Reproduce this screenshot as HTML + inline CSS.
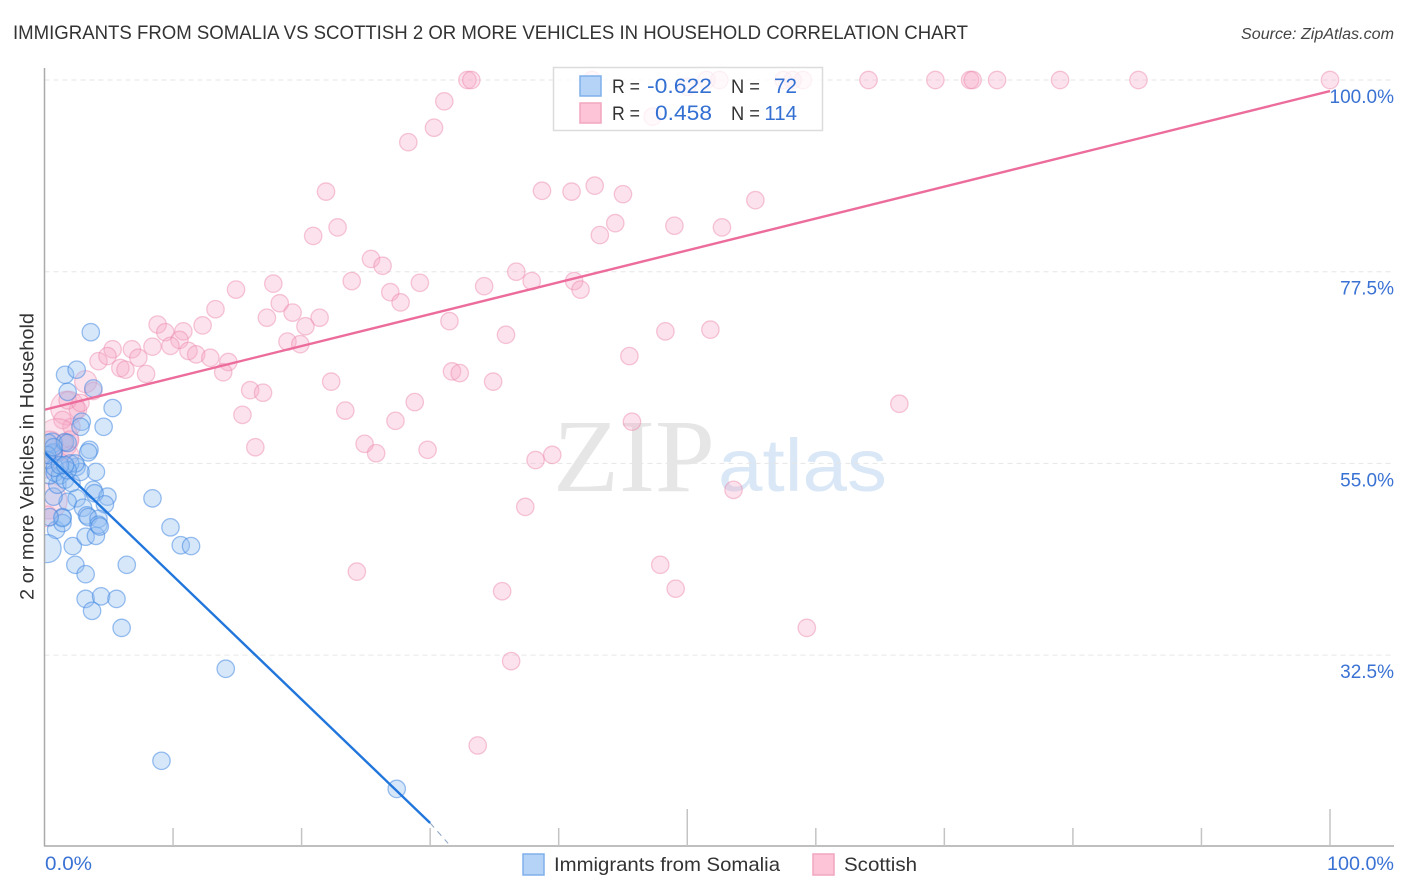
<!DOCTYPE html>
<html lang="en">
<head>
<meta charset="utf-8">
<title>Immigrants from Somalia vs Scottish correlation chart</title>
<style>
html,body{margin:0;padding:0;background:#fff;}
body{width:1406px;height:892px;overflow:hidden;font-family:"Liberation Sans",sans-serif;}
svg{display:block;}
text{font-family:"Liberation Sans",sans-serif;}
</style>
</head>
<body>
<svg id="chart" xmlns="http://www.w3.org/2000/svg" width="1406" height="892" viewBox="0 0 1406 892">
  <defs>
    <clipPath id="plot-clip"><rect x="45" y="60" width="1349" height="786"/></clipPath>
  </defs>
  <text x="13" y="39" font-size="19.5" fill="#333" textLength="955" lengthAdjust="spacingAndGlyphs">IMMIGRANTS FROM SOMALIA VS SCOTTISH 2 OR MORE VEHICLES IN HOUSEHOLD CORRELATION CHART</text>
  <text x="1241" y="39" font-size="15.5" font-style="italic" fill="#444" textLength="153" lengthAdjust="spacingAndGlyphs">Source: ZipAtlas.com</text>
  <text x="553" y="491" font-size="104" fill="#e6e6e6" textLength="162" lengthAdjust="spacingAndGlyphs" style="font-family:'Liberation Serif',serif;">ZIP</text>
  <text x="718" y="491" font-size="74" fill="#d9e7f6" textLength="169" lengthAdjust="spacingAndGlyphs">atlas</text>
  <g id="grid"></g>
  <g id="points" clip-path="url(#plot-clip)"></g>
  <g id="trends"></g>
  <g id="axes"></g>
  <text transform="translate(33.5,456.5) rotate(-90)" font-size="19.5" fill="#333" text-anchor="middle" textLength="287" lengthAdjust="spacingAndGlyphs">2 or more Vehicles in Household</text>
  <g>
    <rect x="553.5" y="67.5" width="269" height="63" fill="#fff" fill-opacity="0.78" stroke="#dcdcdc" stroke-width="1.5"/>
    <rect x="580" y="76" width="21" height="20" fill="#b5d2f7" stroke="#7fb0ea" stroke-width="1.5"/>
    <rect x="580" y="103" width="21" height="20" fill="#fcc4d6" stroke="#f2a6bf" stroke-width="1.5"/>
    <text x="612" y="93" font-size="19" fill="#333" textLength="28" lengthAdjust="spacingAndGlyphs">R =</text>
    <text x="647" y="93" font-size="21" fill="#3470d2" textLength="65" lengthAdjust="spacingAndGlyphs">-0.622</text>
    <text x="731" y="93" font-size="19" fill="#333" textLength="29" lengthAdjust="spacingAndGlyphs">N =</text>
    <text x="774" y="93" font-size="21" fill="#3470d2" textLength="23" lengthAdjust="spacingAndGlyphs">72</text>
    <text x="612" y="120" font-size="19" fill="#333" textLength="28" lengthAdjust="spacingAndGlyphs">R =</text>
    <text x="655" y="120" font-size="21" fill="#3470d2" textLength="57" lengthAdjust="spacingAndGlyphs">0.458</text>
    <text x="731" y="120" font-size="19" fill="#333" textLength="29" lengthAdjust="spacingAndGlyphs">N =</text>
    <text x="797" y="120" font-size="20.5" fill="#3470d2" text-anchor="end">114</text>
  </g>
  <g>
    <rect x="523" y="854" width="21" height="21" fill="#b5d2f7" stroke="#7fb0ea" stroke-width="1.5"/>
    <text x="554" y="871" font-size="19.5" fill="#333" textLength="226" lengthAdjust="spacingAndGlyphs">Immigrants from Somalia</text>
    <rect x="813" y="854" width="21" height="21" fill="#fcc4d6" stroke="#f2a6bf" stroke-width="1.5"/>
    <text x="844" y="871" font-size="19.5" fill="#333" textLength="73" lengthAdjust="spacingAndGlyphs">Scottish</text>
  </g>
</svg>
<script>
const yTickValues = [100, 77.5, 55, 32.5];
const yTickLabels = ["100.0%", "77.5%", "55.0%", "32.5%"];
const xTickValues = [0, 10, 20, 30, 40, 50, 60, 70, 80, 90, 100];
const xTallTicks = [0, 50, 100];
const xEndLabels = ["0.0%", "100.0%"];

const somaliaX = [3.6,1.6,2.5,1.8,3.8,5.3,2.9,2.8,4.6,3.5,3.4,4.0,8.4,9.8,10.6,11.4,6.4,2.4,3.2,2.2,3.2,4.0,0.9,0.2,3.2,4.4,5.6,3.7,6.0,14.1,9.1,27.4,3.8,4.9,3.9,2.5,1.8,3.0,4.7,3.3,3.4,4.2,4.2,4.3,1.4,1.4,1.4,0.4,0.7,1.0,0.4,0.8,1.2,1.6,2.1,2.5,2.8,2.0,2.4,1.8,0.6,0.6,0.7,1.6,1.8,0.2,0.8,0.3,0.2,1.2,1.6,0.7];
const somaliaY = [70.4,65.4,66.0,63.4,63.8,61.5,59.9,59.3,59.3,56.6,56.3,54.0,50.9,47.5,45.4,45.3,43.1,43.1,42.0,45.3,46.4,46.5,47.2,45.0,39.1,39.4,39.1,37.7,35.7,30.9,20.1,16.8,51.9,51.1,51.5,50.9,50.5,49.8,50.2,48.9,48.7,48.5,47.8,47.6,48.7,48.0,48.6,48.7,51.1,52.5,53.6,53.9,53.6,53.1,52.7,54.6,54.0,55.0,55.0,54.2,56.0,57.4,56.3,57.5,57.4,55.4,54.5,57.4,56.0,54.8,54.8,56.9];
const somaliaWeight = {23: 2.6, 60: 1.3, 61: 1.3};

const scottishX = [32.9,33.2,42.6,51.5,52.5,57.5,58.2,59.0,64.1,69.3,72.0,72.2,74.1,79.0,85.1,100,50.0,47.3,31.1,30.3,28.3,21.9,38.7,41.0,42.8,45.0,55.3,20.9,22.8,43.2,44.4,49.0,52.7,25.4,26.3,23.9,17.8,14.9,18.3,13.3,19.3,17.3,21.4,20.3,8.8,9.4,10.8,12.3,10.5,9.8,8.4,18.9,19.9,5.3,6.8,4.2,4.9,7.3,11.2,11.8,12.9,14.3,13.9,5.9,6.3,7.9,3.2,3.8,22.3,16.0,17.0,23.4,15.4,28.8,27.3,16.4,24.9,25.8,29.8,31.7,32.3,34.9,35.9,31.5,26.9,27.7,29.2,34.2,36.7,37.9,41.2,41.7,45.5,48.3,51.8,66.5,45.7,38.2,39.5,53.6,37.4,47.9,49.1,24.3,35.6,36.3,33.7,59.3,1.8,2.6,1.8,2.8,2.1,1.4,1.0,0.4,2.0,1.5,0.35,0.2,2.0,1.2,0.1,0.0];
const scottishY = [100,100,100,100,100,100,100,100,100,100,100,100,100,100,100,100,99.2,95.7,97.5,94.4,92.7,86.9,87.0,86.9,87.6,86.6,85.9,81.7,82.7,81.8,83.2,82.9,82.7,79.0,78.2,76.4,76.1,75.4,73.8,73.1,72.7,72.1,72.1,71.1,71.3,70.4,70.5,71.2,69.5,68.8,68.7,69.3,69.0,68.4,68.4,67.0,67.6,67.4,68.2,67.8,67.4,66.9,65.7,66.2,66.0,65.5,64.6,63.5,64.6,63.6,63.3,61.2,60.7,62.2,60.0,56.9,57.3,56.2,56.6,65.8,65.6,64.6,70.1,71.7,75.1,73.9,76.2,75.8,77.5,76.4,76.4,75.4,67.6,70.5,70.7,62.0,59.9,55.4,56.0,51.9,49.9,43.1,40.3,42.3,40.0,31.8,21.9,35.7,61.5,61.3,62.4,62.1,59.3,60.1,57.8,57.2,57.8,57.4,50.6,48.8,56.0,55.2,54.3,56.0];
const scottishWeight = {66: 1.6, 108: 3.8, 114: 5.8, 115: 2.4, 118: 4.3, 119: 1.4};

const somaliaTrend = { start: 0, end: 30, startValue: 56.3, endValue: 12.8, dashEnd: 31.4, dashValue: 10.4 };
const scottishTrend = { start: 0, end: 100, startValue: 61.3, endValue: 98.7 };

const NS = "http://www.w3.org/2000/svg";
const plotLeft = 44.5, plotRight = 1330, plotTop = 80, plotBottom = 846;
const yMax = 100, yMin = 10.1;
function xScale(v) { return plotLeft + (v / 100) * (plotRight - plotLeft); }
function yScale(v) { return plotTop + ((yMax - v) / (yMax - yMin)) * (plotBottom - plotTop); }
function radius(w) { return 8.7 * Math.sqrt(w || 1); }
function make(tag, attrs, parent) {
  const el = document.createElementNS(NS, tag);
  for (const k in attrs) el.setAttribute(k, attrs[k]);
  parent.appendChild(el);
  return el;
}

const gridG = document.getElementById("grid");
const axesG = document.getElementById("axes");
const pointsG = document.getElementById("points");
const trendsG = document.getElementById("trends");

yTickValues.forEach(function (v, i) {
  const line = make("line", { x1: 44.5, x2: 1394, y1: yScale(v), y2: yScale(v), stroke: "#e6e6e6", "stroke-width": 1, "stroke-dasharray": "5 4" }, gridG);
  
  
  const label = make("text", { x: 1394, y: yScale(v) + 23, "font-size": 19, fill: "#3a72d4", "text-anchor": "end" }, axesG);
  label.textContent = yTickLabels[i];
  
  
});

const yAxis = make("line", { x1: 44.5, x2: 44.5, y1: 68, y2: 846.5, stroke: "#aaa", "stroke-width": 1.5 }, axesG);


const xAxis = make("line", { x1: 44, x2: 1394, y1: 846, y2: 846, stroke: "#aaa", "stroke-width": 1.5 }, axesG);



xTickValues.forEach(function (v) {
  if (v === 0) return;
  const tall = xTallTicks.indexOf(v) >= 0;
  const tick = make("line", { x1: xScale(v), x2: xScale(v), y1: tall ? 809 : 828, y2: 846, stroke: "#c4c4c4", "stroke-width": 1.5 }, axesG);
  
  
});

const xLabelLeft = make("text", { x: 45, y: 870, "font-size": 19, fill: "#3a72d4", textLength: 47, lengthAdjust: "spacingAndGlyphs" }, axesG);
xLabelLeft.textContent = xEndLabels[0];


const xLabelRight = make("text", { x: 1327, y: 870, "font-size": 19, fill: "#3a72d4", textLength: 67, lengthAdjust: "spacingAndGlyphs" }, axesG);
xLabelRight.textContent = xEndLabels[1];



scottishX.forEach(function (v, i) {
  const c = make("circle", { cx: xScale(v), cy: yScale(scottishY[i]), r: radius(scottishWeight[i]), fill: "#f7a8c4", "fill-opacity": 0.33, stroke: "#ec86aa", "stroke-opacity": 0.45, "stroke-width": 1.3 }, pointsG);
  
  
});
somaliaX.forEach(function (v, i) {
  const c = make("circle", { cx: xScale(v), cy: yScale(somaliaY[i]), r: radius(somaliaWeight[i]), fill: "#90bcf2", "fill-opacity": 0.36, stroke: "#3f86e0", "stroke-opacity": 0.52, "stroke-width": 1.3 }, pointsG);
  
  
});

const somaliaLine = make("line", { x1: xScale(somaliaTrend.start), y1: yScale(somaliaTrend.startValue), x2: xScale(somaliaTrend.end), y2: yScale(somaliaTrend.endValue), stroke: "#2176dc", "stroke-width": 2.4 }, trendsG);


const somaliaDash = make("line", { x1: xScale(somaliaTrend.end), y1: yScale(somaliaTrend.endValue), x2: xScale(somaliaTrend.dashEnd), y2: yScale(somaliaTrend.dashValue), stroke: "#8fa6c4", "stroke-width": 1, "stroke-dasharray": "6 5" }, trendsG);


const scottishLine = make("line", { x1: xScale(scottishTrend.start), y1: yScale(scottishTrend.startValue), x2: xScale(scottishTrend.end), y2: yScale(scottishTrend.endValue), stroke: "#ec6c9b", "stroke-width": 2.4 }, trendsG);


</script>
</body>
</html>
